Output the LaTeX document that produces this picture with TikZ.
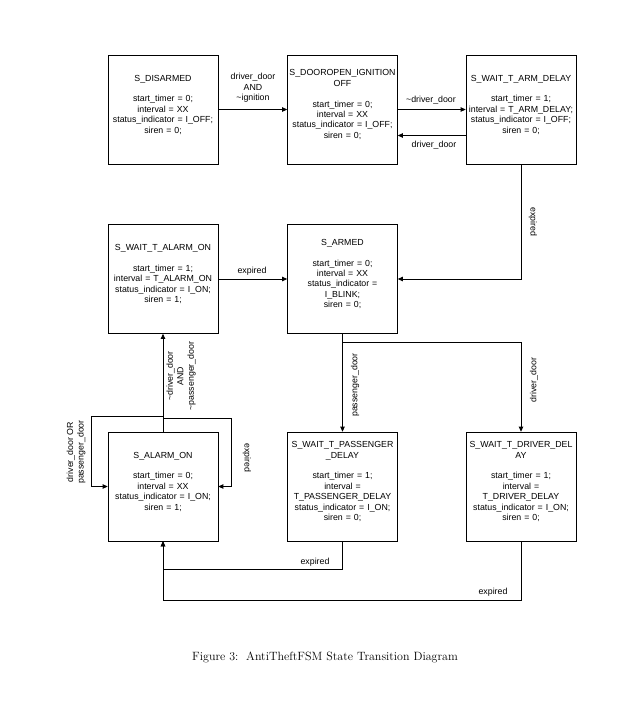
\documentclass[tikz,border=0pt]{standalone}
\usepackage{fontspec}
\newfontfamily\diagfont{Liberation Sans}
\usetikzlibrary{arrows.meta}

\begin{document}
\begin{tikzpicture}[x=1pt,y=-1pt,
		state/.style={draw, line width=0.7pt, minimum width=110pt, minimum height=109pt, inner sep=0pt, text width=110pt, align=center, font=\diagfont\fontsize{8.8}{10.4}\selectfont, execute at end node={\endgraf\vspace{10pt}}},
		trans/.style={line width=0.9pt, -{Triangle[length=5pt,width=4.5pt]}},
		lbl/.style={font=\diagfont\fontsize{8.8}{10.5}\selectfont, align=center, inner sep=0pt}]
		\useasboundingbox (0,0) rectangle (622,707);
		\node[state] (disarmed) at (163,109.5) {S\_DISARMED\\[10.4pt]start\_timer = 0;\\interval = XX\\status\_indicator = I\_OFF;\\siren = 0;};
		\node[state] (dooropen) at (342.5,109.5) {S\_DOOROPEN\_IGNITION\\OFF\\[10.4pt]start\_timer = 0;\\interval = XX\\status\_indicator = I\_OFF;\\siren = 0;};
		\node[state] (armdelay) at (521,109.5) {S\_WAIT\_T\_ARM\_DELAY\\[10.4pt]start\_timer = 1;\\interval = T\_ARM\_DELAY;\\status\_indicator = I\_OFF;\\siren = 0;};
		\node[state] (alarmwait) at (163,279) {S\_WAIT\_T\_ALARM\_ON\\[10.4pt]start\_timer = 1;\\interval = T\_ALARM\_ON\\status\_indicator = I\_ON;\\siren = 1;};
		\node[state] (armed) at (342.5,279) {S\_ARMED\\[10.4pt]start\_timer = 0;\\interval = XX\\status\_indicator =\\I\_BLINK;\\siren = 0;};
		\node[state] (alarmon) at (163,486.5) {S\_ALARM\_ON\\[10.4pt]start\_timer = 0;\\interval = XX\\status\_indicator = I\_ON;\\siren = 1;};
		\node[state] (passdelay) at (342.5,486.5) {S\_WAIT\_T\_PASSENGER\\\_DELAY\\[10.4pt]start\_timer = 1;\\interval =\\T\_PASSENGER\_DELAY\\status\_indicator = I\_ON;\\siren = 0;};
		\node[state] (drvdelay) at (521,486.5) {S\_WAIT\_T\_DRIVER\_DEL\\AY\\[10.4pt]start\_timer = 1;\\interval =\\T\_DRIVER\_DELAY\\status\_indicator = I\_ON;\\siren = 0;};
		\draw[trans] (disarmed.east) -- (dooropen.west);
		\node[lbl] (lblignition) at (253,88) {driver\_door\\AND\\\textasciitilde ignition};
		\draw[trans] (dooropen.east) -- (armdelay.west);
		\node[lbl] (lblnotdoor) at (431,100) {\textasciitilde driver\_door};
		\draw[trans] ([yshift=-26pt]armdelay.west) -- ([yshift=-26pt]dooropen.east);
		\node[lbl] (lbldoor) at (434,145) {driver\_door};
		\draw[trans] (armdelay.south) |- (armed.east);
		\node[lbl, rotate=-90] (lblexparm) at (533,222) {expired};
		\draw[trans] (alarmwait.east) -- (armed.west);
		\node[lbl] (lblexpwait) at (252,271) {expired};
		\coordinate (armedsplit) at (342.5,342);
		\draw[trans] (armed.south) -- (passdelay.north);
		\draw[trans] (armedsplit) -| (drvdelay.north);
		\node[lbl, rotate=90] (lblpass) at (355,385) {passenger\_door};
		\node[lbl, rotate=90] (lbldrv) at (534,380) {driver\_door};
		\draw[trans] (alarmon.north) -- (alarmwait.south);
		\node[lbl, rotate=90] (lblreset) at (181,376) {\textasciitilde driver\_door\\AND\\\textasciitilde passenger\_door};
		\coordinate (loopleft) at (91,416);
		\coordinate (loopright) at (231,418);
		\draw[trans] (alarmon.north) |- (loopleft) |- (alarmon.west);
		\draw[trans] (alarmon.north) |- (loopright) |- (alarmon.east);
		\node[lbl, rotate=90] (lbldoors) at (76,452) {driver\_door OR\\passenger\_door};
		\node[lbl, rotate=-90] (lblexpon) at (247,458) {expired};
		\coordinate (passret) at (163,569);
		\coordinate (drvret) at (163,600);
		\draw[trans] (passdelay.south) |- (passret) -- (alarmon.south);
		\draw[trans] (drvdelay.south) |- (drvret) -- (alarmon.south);
		\node[lbl] (lblexppass) at (315,562) {expired};
		\node[lbl] (lblexpdrv) at (493,592) {expired};
		\node[font=\fontsize{12}{14}\selectfont] (caption) at (325,657) {Figure 3:\ \ AntiTheftFSM State Transition Diagram};
\end{tikzpicture}
\end{document}
